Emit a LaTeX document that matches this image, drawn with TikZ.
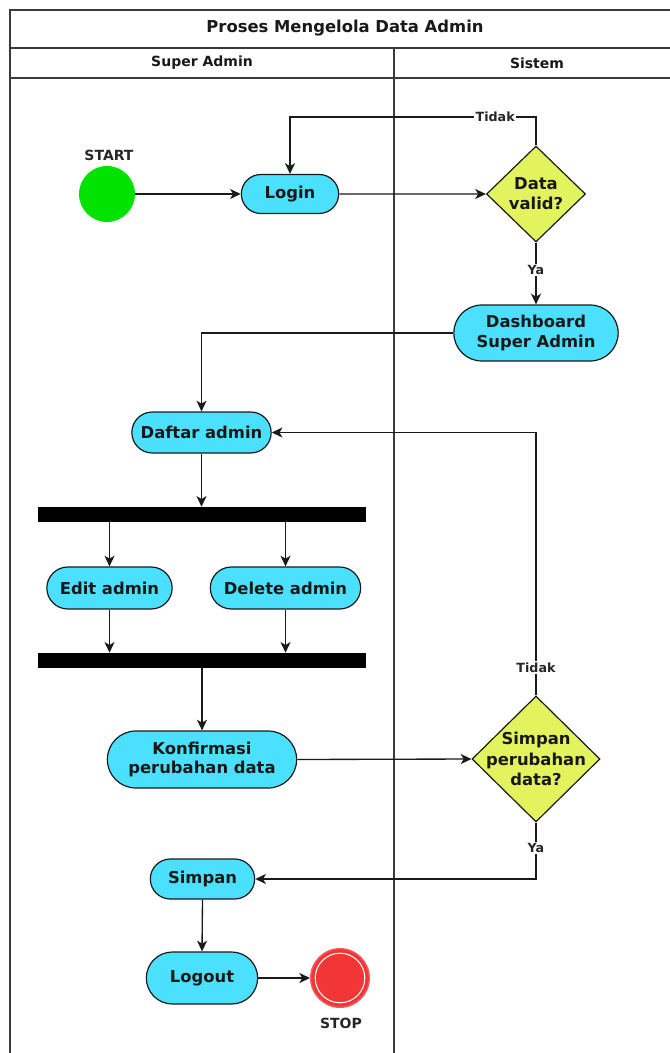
\documentclass[tikz,border=0pt]{standalone}
\usepackage{fontspec}
\setmainfont{DejaVu Sans}
\usetikzlibrary{shapes.misc,shapes.geometric,arrows.meta,calc}
\definecolor{actcyan}{HTML}{4BE0FD}
\definecolor{decyel}{HTML}{E2F35E}
\definecolor{startgreen}{HTML}{00E300}
\definecolor{stopred}{HTML}{F23535}
\definecolor{lanegray}{HTML}{3A3A3A}
\definecolor{edgegray}{HTML}{1A1A1A}
\tikzset{
  act/.style={rounded rectangle, draw=edgegray, line width=0.9pt, fill=actcyan,
    font=\fontsize{12.3}{14.8}\selectfont\bfseries, align=center, inner sep=1pt, text=black!90},
  dec/.style={diamond, draw=edgegray, line width=0.9pt, fill=decyel, inner sep=0pt},
  dectext/.style={font=\fontsize{12.3}{15.2}\selectfont\bfseries, align=center, text=black!90, inner sep=0pt},
  bar/.style={rectangle, fill=black, inner sep=0pt, minimum height=11.25pt, minimum width=246pt},
  arr/.style={draw=edgegray, line width=1pt, -{Stealth[length=8pt,width=7.5pt,inset=2.2pt]}},
  lbl/.style={fill=white, inner sep=1pt, font=\fontsize{9.5}{11}\selectfont\bfseries, text=black!85},
  endlbl/.style={font=\fontsize{10.5}{12}\selectfont\bfseries, text=black!85},
  lane/.style={draw=lanegray, line width=1pt},
  hdr/.style={font=\fontsize{10.5}{12}\selectfont\bfseries, text=black!90},
}
\begin{document}
\begin{tikzpicture}[x=0.75pt,y=-0.75pt]
\useasboundingbox (0,0) rectangle (669,1053);
% swimlane frame
\draw[lane] (10,1053) -- (10,10) -- (670,10);
\draw[lane] (10,48) -- (670,48);
\draw[lane] (10,78) -- (670,78);
\draw[lane] (394,48) -- (394,1053);
\node[font=\fontsize{12.3}{14}\selectfont\bfseries, text=black!90] (title) at (345,28) {Proses Mengelola Data Admin};
\node[hdr] (h1) at (202,63) {Super Admin};
\node[hdr] (h2) at (537,63) {Sistem};

% nodes
\node[circle, fill=startgreen, minimum size=42pt, inner sep=0pt] (start) at (107,194) {};
\node[endlbl] (startlbl) at (109,155) {START};
\node[act, minimum width=75pt, minimum height=29.25pt] (login) at (290,194) {Login};
\node[dec, minimum width=74.25pt, minimum height=72pt,
  label={[dectext]center:Data\\valid?}] (valid) at (536,194) {};
\node[act, minimum width=125.25pt, minimum height=42pt] (dash) at (536,333) {Dashboard\\Super Admin};
\node[act, minimum width=106.5pt, minimum height=30.75pt] (daftar) at (201.5,432.5) {Daftar admin};
\node[bar] (bar1) at (202,514.5) {};
\node[act, minimum width=96pt, minimum height=31.5pt] (edit) at (109.5,588) {Edit admin};
\node[act, minimum width=114.75pt, minimum height=31.5pt] (delete) at (285.5,588) {Delete admin};
\node[bar] (bar2) at (202,660.5) {};
\node[act, minimum width=144pt, minimum height=42.75pt] (konf) at (202,759.5) {Konfirmasi\\perubahan data};
\node[dec, minimum width=96pt, minimum height=94.5pt,
  label={[dectext]center:Simpan\\perubahan\\data?}] (simq) at (536,759) {};
\node[act, minimum width=80.25pt, minimum height=30pt] (simpan) at (202.5,879) {Simpan};
\node[act, minimum width=85.5pt, minimum height=39pt] (logout) at (202,978) {Logout};
\node[circle, fill=stopred, draw=stopred!80, line width=1pt, minimum size=44pt, inner sep=0pt] (stop) at (340,978) {};
\draw[white, line width=0.8pt] (stop.center) circle[radius=18.6pt];
\node[endlbl] (stoplbl) at (341,1023) {STOP};

% connectors
\coordinate (t1) at (536,117);
\draw[arr] (start) -- (login);
\draw[arr] (login) -- (valid);
\draw[arr] (valid.north) -- (t1) -| node[lbl, pos=0.083] {Tidak} (login.north);
\draw[arr] (valid.south) -- node[lbl, pos=0.44] {Ya} (dash.north);
\draw[arr] (dash.west) -| (daftar.north);
\draw[arr] (daftar.south) -- (daftar.south |- bar1.north);
\draw[arr] (edit.north |- bar1.south) -- (edit.north);
\draw[arr] (delete.north |- bar1.south) -- (delete.north);
\draw[arr] (edit.south) -- (edit.south |- bar2.north);
\draw[arr] (delete.south) -- (delete.south |- bar2.north);
\draw[arr] (bar2.south) -- (konf.north);
\draw[arr] (konf.east) -- (simq.west);
\draw[arr] (simq.north) |- node[lbl, pos=0.053] {Tidak} (daftar.east);
\draw[arr] (simq.south) |- node[lbl, pos=0.228] {Ya} (simpan.east);
\draw[arr] (simpan.south) -- (logout.north);
\draw[arr] (logout.east) -- (stop.west);
\end{tikzpicture}
\end{document}
